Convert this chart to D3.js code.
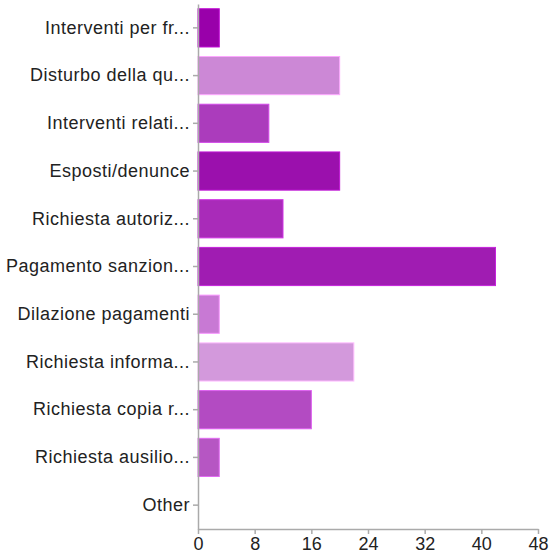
<!DOCTYPE html>
<html><head><meta charset="utf-8">
<script src="https://cdn.jsdelivr.net/npm/d3@7"></script>
<style>body{margin:0;background:#fff}svg{display:block}text{font-family:"Liberation Sans",Arial,Helvetica,sans-serif}</style>
</head><body>
<svg id="c" width="551" height="555"></svg>
<script>
const categories = ["Interventi per fr...","Disturbo della qu...","Interventi relati...","Esposti/denunce","Richiesta autoriz...","Pagamento sanzion...","Dilazione pagamenti","Richiesta informa...","Richiesta copia r...","Richiesta ausilio...","Other"];
const values = [3,20,10,20,12,42,3,22,16,3,0];
const colors = ["#9900aa","#cc88d6","#ab3cbc","#9b10ad","#a92bb9","#a01cb2","#c879d4","#d399dc","#b34bc2","#b656c3","#b656c3"];
const xTicks = [0,8,16,24,32,40,48];

const W=551,H=555, m={l:198,r:13,t:4,b:26};
const svg=d3.select("#c");
const x=d3.scaleLinear().domain([0,48]).range([m.l,W-m.r]);
const y=d3.scaleBand().domain(categories).range([m.t,H-m.b]).paddingInner(0.2).paddingOuter(0.1);

svg.append("g").selectAll("rect").data(categories).join("rect")
  .attr("x",x(0)).attr("y",d=>y(d)).attr("height",y.bandwidth())
  .attr("width",(d,i)=>Math.max(0,x(values[i])-x(0)))
  .attr("fill",(d,i)=>colors[i])
  .attr("stroke",(d,i)=>values[i]>0?d3.color(colors[i]).brighter(0.6):"none").attr("stroke-width",1);

const ya=svg.append("g").attr("transform",`translate(${m.l},0)`).call(d3.axisLeft(y).tickSize(5).tickSizeOuter(0).tickPadding(3));
const xa=svg.append("g").attr("transform",`translate(0,${H-m.b})`).call(d3.axisBottom(x).tickValues(xTicks).tickSize(5).tickSizeOuter(0).tickPadding(3));
[ya,xa].forEach(a=>{
  a.attr("font-size",null).attr("font-family",null);
  a.selectAll("path,line").attr("stroke","#aaa").attr("stroke-width",1.5);
  a.selectAll("text").attr("fill","#222").style("font-size","18px");
});
ya.selectAll("text").style("letter-spacing","0.5px");
</script>
</body></html>
